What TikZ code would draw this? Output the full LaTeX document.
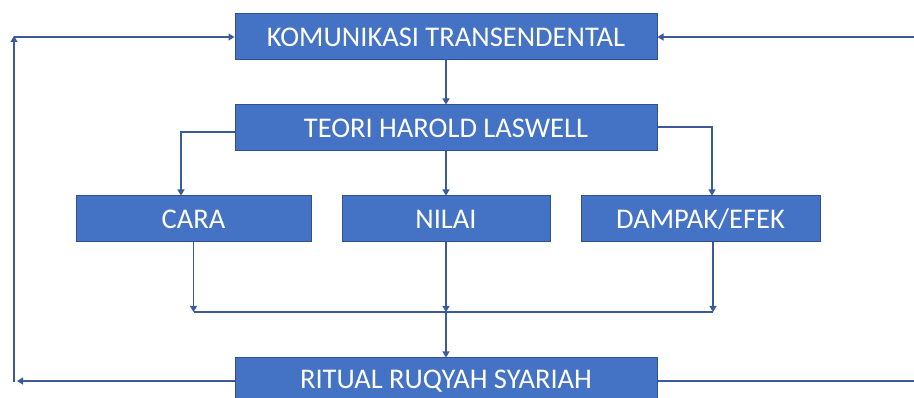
\documentclass[tikz,border=0pt]{standalone}
\usepackage{fontspec}
\setmainfont{Carlito}
\usepackage{xcolor}
\usetikzlibrary{arrows.meta}
\definecolor{boxfill}{RGB}{68,114,196}
\definecolor{boxedge}{RGB}{47,82,143}
\definecolor{linkcol}{RGB}{58,90,152}

\begin{document}
\begin{tikzpicture}[x=1pt,y=-1pt,
  box/.style={draw=boxedge,line width=1pt,fill=boxfill,text=white,minimum height=46pt,inner sep=0pt,font=\fontsize{28.5}{32}\selectfont},
  link/.style={draw=linkcol,line width=1.2pt,-{Triangle[width=7pt,length=6pt]}},
  bus/.style={draw=linkcol,line width=1.2pt}]
  \useasboundingbox (0,0) rectangle (914,398);
  \clip (0,0) rectangle (914,398);
  % boxes, pixel grid of the 914x398 frame
  \node[box,minimum width=422pt] (komunikasi) at (446,37) {KOMUNIKASI TRANSENDENTAL};
  \node[box,minimum width=422pt] (teori) at (446,128) {TEORI HAROLD LASWELL};
  \node[box,minimum width=235pt] (cara) at (193.5,219) {CARA};
  \node[box,minimum width=208pt] (nilai) at (446,219) {NILAI};
  \node[box,minimum width=239pt] (dampak) at (700.5,219) {DAMPAK/EFEK};
  \node[box,minimum width=422pt] (ritual) at (446,381) {RITUAL RUQYAH SYARIAH};
  % collecting line
  \coordinate (busL) at (193.5,312);
  \coordinate (busM) at (446,312);
  \coordinate (busR) at (713,312);
  % feedback corners
  \coordinate (cornerL) at (14,381);
  \coordinate (topL) at (14,37);
  \coordinate (endR) at (922,381);
  \coordinate (startR) at (922,37);
  % top down
  \draw[link] (komunikasi) -- (teori);
  \draw[link] ([yshift=-4pt]teori.west) -| ([xshift=-12.5pt]cara.north);
  \draw[link] (teori) -- (nilai);
  \draw[link] ([yshift=1pt]teori.east) -| ([xshift=11.5pt]dampak.north);
  \draw[link] (cara.south) -- (busL);
  \draw[link] (nilai) -- (busM);
  \draw[link] ([xshift=12.5pt]dampak.south) -- (busR);
  \draw[bus] (busL) -- (busR);
  \draw[link] (busM) -- (ritual);
  % loop back
  \draw[link] (ritual.west) -- ([xshift=3pt]cornerL);
  \draw[link] ([yshift=-0.6pt]cornerL) -- ([yshift=1pt]topL);
  \draw[link] (topL) -- (komunikasi.west);
  \draw[link] (ritual.east) -- (endR);
  \draw[link] (startR) -- (komunikasi.east);
\end{tikzpicture}
\end{document}
